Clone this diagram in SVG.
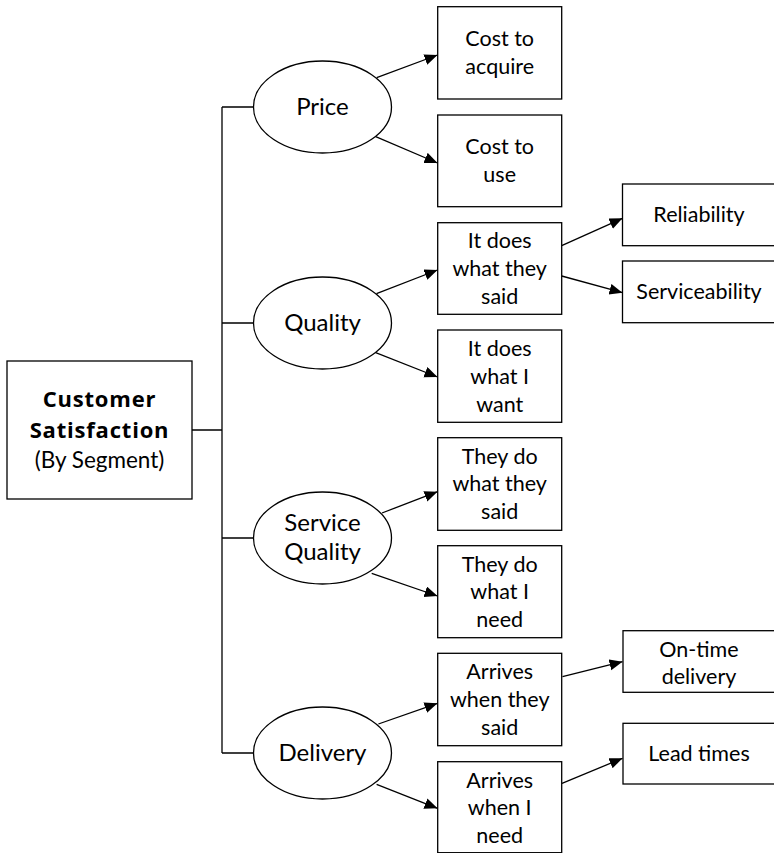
<svg xmlns="http://www.w3.org/2000/svg" width="774" height="853" viewBox="0 0 774 853">
  <defs>
    <marker id="arrow" markerUnits="userSpaceOnUse" markerWidth="14" markerHeight="12" refX="13" refY="5.5" orient="auto">
      <path d="M0,0 L13,5.5 L0,11 z" fill="#000"/>
    </marker>
    <style>
      .box { fill: #fff; stroke: #000; stroke-width: 1.3; }
      .ell { fill: #fff; stroke: #000; stroke-width: 1.3; }
      .link { fill: none; stroke: #000; stroke-width: 1.3; }
      .arr { fill: none; stroke: #000; stroke-width: 1.3; marker-end: url(#arrow); }
      text { font-family: "Lato", "Open Sans", "Liberation Sans", sans-serif; font-size: 21.5px; fill: #000; text-anchor: middle; }
      .e { font-size: 24px; }
      .r { font-size: 22.5px; }
      .b { font-family: "Open Sans", "Lato", "Liberation Sans", sans-serif; font-weight: bold; font-size: 22px; letter-spacing: 0.8px; }
    </style>
  </defs>
  <rect width="774" height="853" fill="#fff"/>

  <g id="connectors">
    <!-- tree trunk and branches -->
    <path class="link" d="M192,430 H222 M222,107 V753 M222,107 H253.5 M222,323 H253.5 M222,538 H253.5 M222,753 H253.5"/>
    <!-- ellipse to first-level boxes -->
    <line class="arr" x1="376.7" y1="77.7" x2="437.5" y2="55"/>
    <line class="arr" x1="375.7" y1="136.7" x2="437.5" y2="163"/>
    <line class="arr" x1="376.5" y1="293.7" x2="437.5" y2="270"/>
    <line class="arr" x1="375.7" y1="352.7" x2="437.5" y2="377"/>
    <line class="arr" x1="382" y1="513" x2="437.5" y2="491.7"/>
    <line class="arr" x1="371.7" y1="573.3" x2="437.5" y2="596"/>
    <line class="arr" x1="378.4" y1="724" x2="437.5" y2="703.3"/>
    <line class="arr" x1="376.6" y1="784.3" x2="437.5" y2="808.3"/>
    <!-- first-level to second-level boxes -->
    <line class="arr" x1="561.7" y1="245.7" x2="622.5" y2="218.3"/>
    <line class="arr" x1="561.7" y1="276" x2="622.5" y2="292.7"/>
    <line class="arr" x1="562.5" y1="676.7" x2="622.5" y2="661.7"/>
    <line class="arr" x1="562" y1="783.3" x2="622.5" y2="758.3"/>
  </g>

  <g id="customer-satisfaction">
    <rect class="box" x="7" y="361" width="185" height="138"/>
    <text class="b" x="99.5" y="406.7">Customer</text>
    <text class="b" x="99.5" y="437.7">Satisfaction</text>
    <text class="r" x="99.5" y="468.3">(By Segment)</text>
  </g>

  <g id="price">
    <ellipse class="ell" cx="322.5" cy="107" rx="69" ry="46"/>
    <text class="e" x="322.5" y="115">Price</text>
  </g>
  <g id="quality">
    <ellipse class="ell" cx="322.5" cy="323" rx="69" ry="46"/>
    <text class="e" x="322.5" y="331">Quality</text>
  </g>
  <g id="service-quality">
    <ellipse class="ell" cx="322.5" cy="538" rx="69" ry="46"/>
    <text class="e" x="322.5" y="531">Service</text>
    <text class="e" x="322.5" y="560">Quality</text>
  </g>
  <g id="delivery">
    <ellipse class="ell" cx="322.5" cy="753" rx="69" ry="46"/>
    <text class="e" x="322.5" y="761">Delivery</text>
  </g>

  <g id="cost-to-acquire">
    <rect class="box" x="437.7" y="6.7" width="124" height="92.3"/>
    <text x="499.7" y="46">Cost to</text>
    <text x="499.7" y="73.5">acquire</text>
  </g>
  <g id="cost-to-use">
    <rect class="box" x="437.7" y="115" width="124" height="91.7"/>
    <text x="499.7" y="154">Cost to</text>
    <text x="499.7" y="181.5">use</text>
  </g>
  <g id="does-what-they-said">
    <rect class="box" x="437.7" y="222.7" width="124" height="91.6"/>
    <text x="499.7" y="248.3">It does</text>
    <text x="499.7" y="276">what they</text>
    <text x="499.7" y="304">said</text>
  </g>
  <g id="does-what-i-want">
    <rect class="box" x="437.7" y="330" width="124" height="92.3"/>
    <text x="499.7" y="356">It does</text>
    <text x="499.7" y="383.7">what I</text>
    <text x="499.7" y="411.5">want</text>
  </g>
  <g id="they-do-what-they-said">
    <rect class="box" x="437.7" y="437.7" width="124" height="92.6"/>
    <text x="499.7" y="463.5">They do</text>
    <text x="499.7" y="491.2">what they</text>
    <text x="499.7" y="519">said</text>
  </g>
  <g id="they-do-what-i-need">
    <rect class="box" x="437.7" y="545.7" width="124" height="92"/>
    <text x="499.7" y="571.5">They do</text>
    <text x="499.7" y="599.2">what I</text>
    <text x="499.7" y="627">need</text>
  </g>
  <g id="arrives-when-they-said">
    <rect class="box" x="437.7" y="653.3" width="124" height="92.4"/>
    <text x="499.7" y="679">Arrives</text>
    <text x="499.7" y="706.7">when they</text>
    <text x="499.7" y="734.5">said</text>
  </g>
  <g id="arrives-when-i-need">
    <rect class="box" x="437.7" y="761.7" width="124" height="91"/>
    <text x="499.7" y="787.5">Arrives</text>
    <text x="499.7" y="815.2">when I</text>
    <text x="499.7" y="843">need</text>
  </g>

  <g id="reliability">
    <rect class="box" x="622.5" y="184" width="153" height="61.7"/>
    <text x="699" y="221.7">Reliability</text>
  </g>
  <g id="serviceability">
    <rect class="box" x="622.5" y="261" width="153" height="61.7"/>
    <text x="699" y="299">Serviceability</text>
  </g>
  <g id="on-time-delivery">
    <rect class="box" x="623" y="630.7" width="153" height="61.6"/>
    <text x="699" y="656.5">On-time</text>
    <text x="699" y="683.5">delivery</text>
  </g>
  <g id="lead-times">
    <rect class="box" x="623" y="723.3" width="153" height="60.7"/>
    <text x="699" y="761">Lead times</text>
  </g>
</svg>
